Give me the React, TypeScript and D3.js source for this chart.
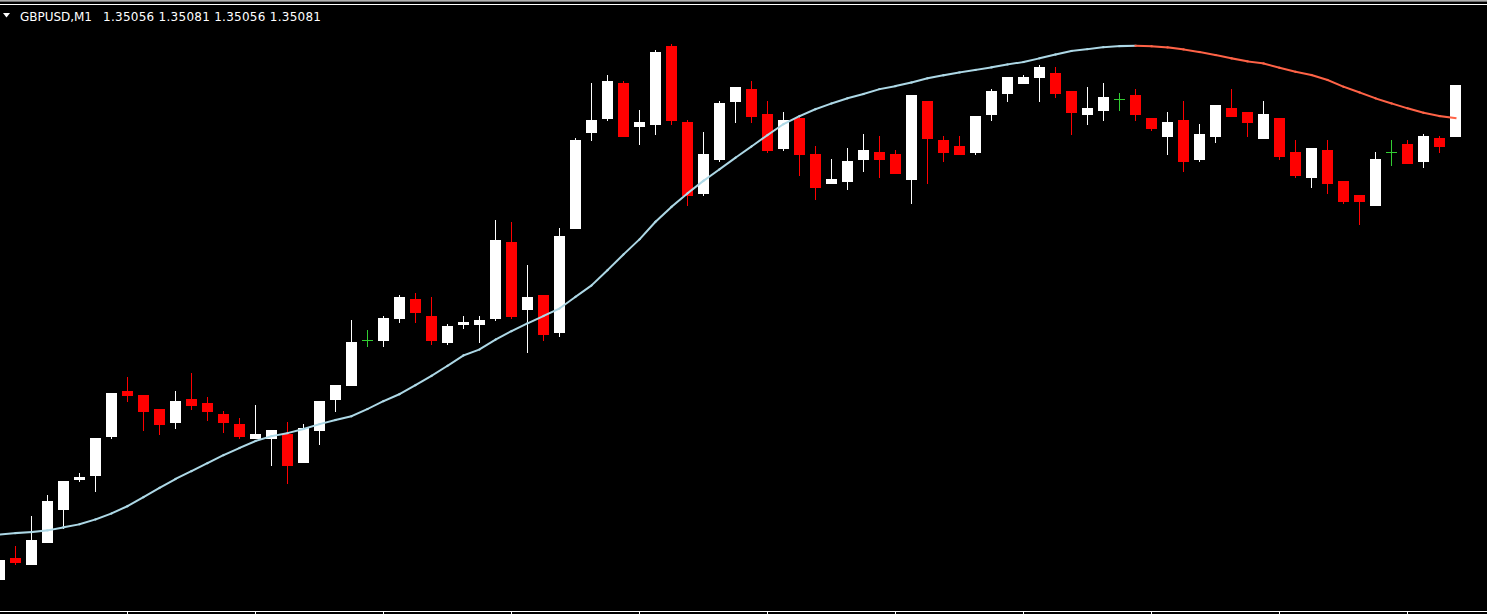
import React from "react";
import * as d3 from "d3";

const symbol = "GBPUSD,M1";

const opens = [
  1.34839, 1.34849, 1.34846, 1.34857, 1.34873, 1.34888, 1.34890, 1.34909, 1.34931, 1.34929,
  1.34922, 1.34916, 1.34927, 1.34925, 1.34920, 1.34915, 1.34908, 1.34908, 1.34910, 1.34896,
  1.34912, 1.34927, 1.34934, 1.34956, 1.34956, 1.34967, 1.34976, 1.34968, 1.34955, 1.34964,
  1.34964, 1.34967, 1.35004, 1.34971, 1.34978, 1.34960, 1.35011, 1.35058, 1.35065, 1.35082,
  1.35061, 1.35062, 1.35100, 1.35063, 1.35028, 1.35045, 1.35073, 1.35079, 1.35067, 1.35050,
  1.35065, 1.35047, 1.35033, 1.35034, 1.35045, 1.35048, 1.35047, 1.35035, 1.35073, 1.35054,
  1.35051, 1.35048, 1.35067, 1.35077, 1.35082, 1.35085, 1.35087, 1.35078, 1.35067, 1.35069,
  1.35074, 1.35076, 1.35065, 1.35056, 1.35064, 1.35045, 1.35056, 1.35070, 1.35068, 1.35055,
  1.35065, 1.35048, 1.35036, 1.35049, 1.35034, 1.35027, 1.35022, 1.35048, 1.35052, 1.35044,
  1.35055, 1.35056,
];

const highs = [
  1.34848, 1.34855, 1.34870, 1.34880, 1.34887, 1.34891, 1.34908, 1.34930, 1.34938, 1.34929,
  1.34922, 1.34931, 1.34940, 1.34928, 1.34921, 1.34918, 1.34924, 1.34912, 1.34916, 1.34915,
  1.34926, 1.34934, 1.34966, 1.34961, 1.34968, 1.34978, 1.34979, 1.34977, 1.34964, 1.34968,
  1.34968, 1.35015, 1.35014, 1.34993, 1.34978, 1.35011, 1.35055, 1.35082, 1.35086, 1.35083,
  1.35069, 1.35098, 1.35101, 1.35064, 1.35058, 1.35073, 1.35080, 1.35083, 1.35073, 1.35068,
  1.35066, 1.35051, 1.35045, 1.35050, 1.35057, 1.35056, 1.35049, 1.35076, 1.35073, 1.35056,
  1.35056, 1.35066, 1.35079, 1.35085, 1.35086, 1.35091, 1.35090, 1.35078, 1.35080, 1.35082,
  1.35077, 1.35079, 1.35065, 1.35068, 1.35073, 1.35062, 1.35071, 1.35079, 1.35068, 1.35073,
  1.35065, 1.35054, 1.35050, 1.35054, 1.35034, 1.35027, 1.35048, 1.35054, 1.35054, 1.35057,
  1.35056, 1.35081,
];

const lows = [
  1.34839, 1.34846, 1.34846, 1.34857, 1.34864, 1.34887, 1.34882, 1.34908, 1.34926, 1.34912,
  1.34910, 1.34913, 1.34922, 1.34917, 1.34911, 1.34908, 1.34908, 1.34895, 1.34886, 1.34896,
  1.34905, 1.34921, 1.34934, 1.34953, 1.34953, 1.34965, 1.34965, 1.34954, 1.34954, 1.34962,
  1.34955, 1.34966, 1.34967, 1.34950, 1.34956, 1.34958, 1.35011, 1.35054, 1.35064, 1.35056,
  1.35052, 1.35057, 1.35062, 1.35022, 1.35027, 1.35044, 1.35063, 1.35063, 1.35048, 1.35049,
  1.35037, 1.35025, 1.35033, 1.35030, 1.35039, 1.35036, 1.35038, 1.35023, 1.35033, 1.35044,
  1.35047, 1.35047, 1.35064, 1.35073, 1.35082, 1.35073, 1.35075, 1.35057, 1.35062, 1.35064,
  1.35069, 1.35064, 1.35059, 1.35047, 1.35039, 1.35044, 1.35053, 1.35066, 1.35056, 1.35055,
  1.35045, 1.35036, 1.35031, 1.35028, 1.35023, 1.35013, 1.35022, 1.35042, 1.35043, 1.35041,
  1.35048, 1.35056,
];

const closes = [
  1.34848, 1.34847, 1.34858, 1.34877, 1.34887, 1.34889, 1.34908, 1.34930, 1.34929, 1.34921,
  1.34915, 1.34926, 1.34924, 1.34921, 1.34916, 1.34909, 1.34910, 1.34912, 1.34895, 1.34913,
  1.34926, 1.34934, 1.34955, 1.34956, 1.34967, 1.34977, 1.34970, 1.34956, 1.34963, 1.34965,
  1.34966, 1.35005, 1.34968, 1.34977, 1.34959, 1.35007, 1.35054, 1.35064, 1.35083, 1.35056,
  1.35063, 1.35097, 1.35064, 1.35027, 1.35047, 1.35072, 1.35080, 1.35066, 1.35049, 1.35064,
  1.35047, 1.35031, 1.35035, 1.35044, 1.35049, 1.35045, 1.35038, 1.35076, 1.35055, 1.35048,
  1.35047, 1.35066, 1.35078, 1.35085, 1.35085, 1.35090, 1.35077, 1.35068, 1.35070, 1.35075,
  1.35074, 1.35067, 1.35060, 1.35063, 1.35044, 1.35057, 1.35071, 1.35066, 1.35063, 1.35067,
  1.35046, 1.35037, 1.35050, 1.35033, 1.35024, 1.35024, 1.35045, 1.35048, 1.35043, 1.35056,
  1.35051, 1.35081,
];

const maValues = [
  1.348607, 1.348614, 1.348619, 1.348627, 1.348642, 1.348657, 1.348681, 1.348710, 1.348746, 1.348790,
  1.348835, 1.348879, 1.348918, 1.348957, 1.348996, 1.349031, 1.349065, 1.349089, 1.349104, 1.349124,
  1.349148, 1.349168, 1.349187, 1.349222, 1.349261, 1.349295, 1.349339, 1.349385, 1.349434, 1.349485,
  1.349514, 1.349562, 1.349604, 1.349642, 1.349678, 1.349715, 1.349772, 1.349828, 1.349903, 1.349980,
  1.350054, 1.350140, 1.350213, 1.350279, 1.350341, 1.350397, 1.350454, 1.350509, 1.350565, 1.350619,
  1.350658, 1.350692, 1.350720, 1.350745, 1.350766, 1.350790, 1.350805, 1.350823, 1.350843, 1.350858,
  1.350872, 1.350884, 1.350897, 1.350911, 1.350923, 1.350941, 1.350960, 1.350977, 1.350986, 1.350996,
  1.351001, 1.351003, 1.351000, 1.350995, 1.350985, 1.350972, 1.350957, 1.350941, 1.350926, 1.350916,
  1.350895, 1.350875, 1.350859, 1.350835, 1.350802, 1.350774, 1.350745, 1.350720, 1.350696, 1.350674,
  1.350658, 1.350648,
];

const tickEvery = 8;

const W = 1487;
const H = 614;
const COLORS = {
  bg: "#000000",
  bull: "#ffffff",
  bear: "#ff0000",
  doji: "#32cd32",
  maUp: "#add8e6",
  maDown: "#ff6347",
  text: "#ffffff",
  axis: "#ffffff",
};

export default function App() {
  const n = closes.length;
  const x = d3.scaleLinear().domain([0, n - 1]).range([-0.5, 1455.5]);
  const y = d3.scaleLinear().domain([1.348232, 1.351227]).range([611, 0]);
  const bodyW = 11;

  const candles = d3.range(n).map((i) => {
    const cx = x(i);
    const o = opens[i], c = closes[i], h = highs[i], l = lows[i];
    const yH = Math.round(y(h));
    const yL = Math.round(y(l));
    if (o === c) {
      const yc = Math.round(y(o)) + 0.5;
      return (
        <g key={i} stroke={COLORS.doji} strokeWidth={1} shapeRendering="crispEdges">
          <line x1={cx} x2={cx} y1={yH} y2={yL + 1} />
          <line x1={cx - bodyW / 2} x2={cx + bodyW / 2} y1={yc} y2={yc} />
        </g>
      );
    }
    const bull = c > o;
    const col = bull ? COLORS.bull : COLORS.bear;
    const yTop = Math.round(y(Math.max(o, c)));
    const yBot = Math.round(y(Math.min(o, c)));
    return (
      <g key={i} shapeRendering="crispEdges">
        <line x1={cx} x2={cx} y1={yH} y2={yL + 1} stroke={col} strokeWidth={1} />
        <rect x={cx - bodyW / 2} y={yTop} width={bodyW} height={Math.max(1, yBot - yTop + 1)} fill={col} />
      </g>
    );
  });

  const gen = d3.line<[number, number]>().x((p) => p[0]).y((p) => p[1]);
  const maSegs: { d: string; color: string }[] = [];
  for (let i = 0; i < n - 1; i++) {
    const down = maValues[i + 1] < maValues[i];
    const pts: [number, number][] = [
      [x(i), y(maValues[i])],
      [x(i + 1), y(maValues[i + 1])],
    ];
    maSegs.push({ d: gen(pts) || "", color: down ? COLORS.maDown : COLORS.maUp });
  }

  const ticks = d3.range(tickEvery, n, tickEvery);
  const last = n - 1;
  const prices = [opens[last], highs[last], lows[last], closes[last]].map((v) => v.toFixed(5)).join(" ");

  return (
    <svg
      width={W}
      height={H}
      style={{ position: "fixed", left: 0, top: 0, display: "block", background: COLORS.bg }}
    >
      <rect x={0} y={0} width={W} height={H} fill={COLORS.bg} />
      <rect x={0} y={0} width={W} height={1} fill="#b0b0b0" shapeRendering="crispEdges" />
      <rect x={0} y={1} width={W} height={1} fill="#707070" shapeRendering="crispEdges" />
      <rect x={0} y={4} width={W} height={1} fill={COLORS.axis} shapeRendering="crispEdges" />
      <rect x={0} y={611} width={W} height={1} fill={COLORS.axis} shapeRendering="crispEdges" />
      {ticks.map((t) => (
        <rect key={t} x={Math.floor(x(t))} y={611} width={1} height={3} fill={COLORS.axis} shapeRendering="crispEdges" />
      ))}
      <g>{candles}</g>
      <g fill="none" strokeWidth={2} strokeLinecap="square">
        {maSegs.map((s, i) => (
          <path key={i} d={s.d} stroke={s.color} />
        ))}
      </g>
      <path d="M3,13 L10,13 L6.5,17.5 Z" fill={COLORS.text} />
      <g fill={COLORS.text} fontFamily="DejaVu Sans, sans-serif" fontSize={12}>
        <text x={20} y={21} textLength={72} lengthAdjust="spacing">
          {symbol}
        </text>
        <text x={103} y={21} textLength={218} lengthAdjust="spacing">
          {prices}
        </text>
      </g>
    </svg>
  );
}
